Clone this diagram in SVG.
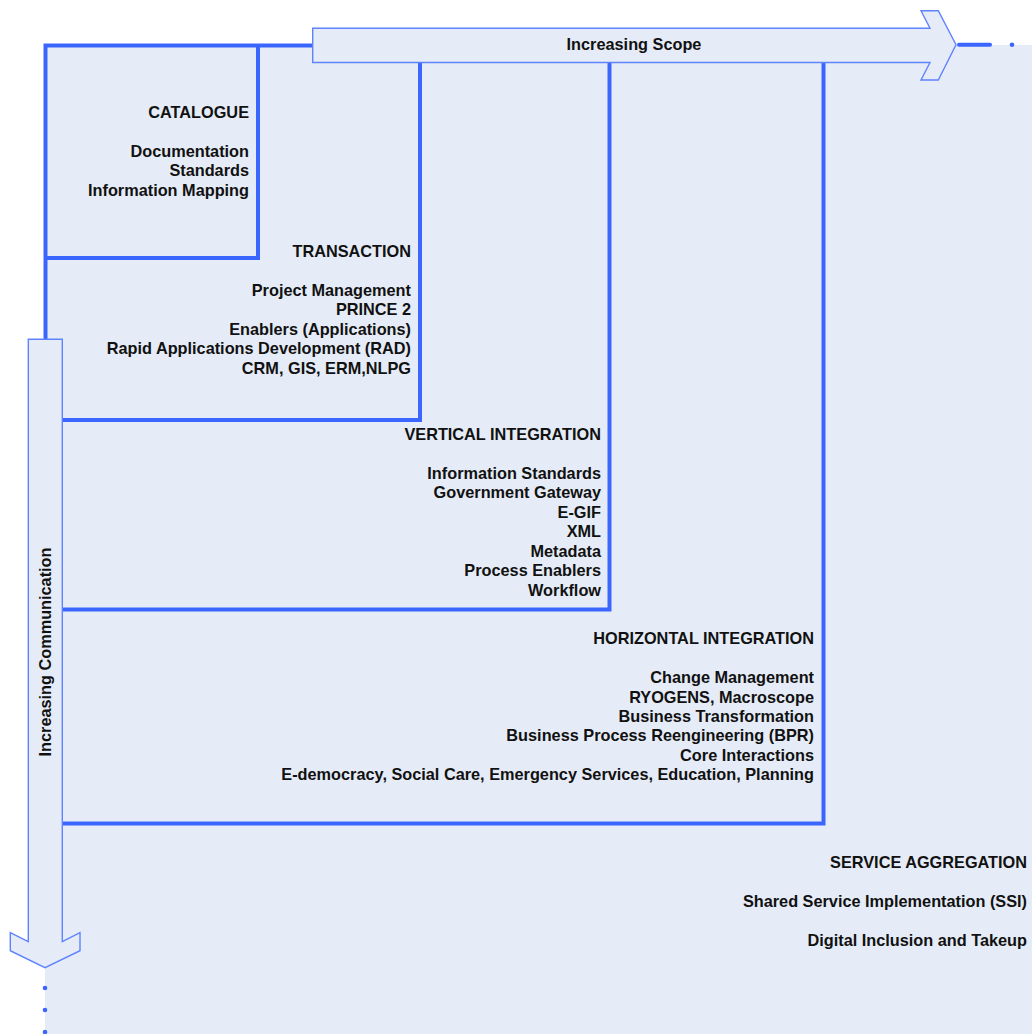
<svg xmlns="http://www.w3.org/2000/svg" width="1032" height="1034" viewBox="0 0 1032 1034">
<style>
.frame{fill:none;stroke:#3A66FF;stroke-width:4;stroke-linecap:square}
.arrow{fill:#E6ECF7;stroke:#5F83FF;stroke-width:1.4;stroke-linejoin:miter}
.t{font-family:"Liberation Sans",Arial,sans-serif;font-size:16.3px;font-weight:bold;fill:#111}
.r{text-anchor:end}
.c{text-anchor:middle}
.dot{fill:#3A66FF}
</style>
<rect x="45" y="45" width="987" height="989" fill="#E6ECF7"/>
<g id="connectors">
<line x1="959" y1="44.7" x2="990" y2="44.7" stroke="#3A66FF" stroke-width="4" stroke-linecap="round"/>
<circle class="dot" cx="1012" cy="44.7" r="2.3"/>
<circle class="dot" cx="45" cy="988" r="2.3"/>
<circle class="dot" cx="45" cy="1010" r="2.3"/>
<circle class="dot" cx="45" cy="1032" r="2.3"/>
</g>
<g id="catalogue">
<path class="frame" d="M45.5,340 V45.5 H313 M258,45.5 V258 H45.5"/>
<text class="t r" x="249" y="118">CATALOGUE</text>
<text class="t r" x="249" y="157">Documentation</text>
<text class="t r" x="249" y="176">Standards</text>
<text class="t r" x="249" y="196">Information Mapping</text>
</g>
<g id="transaction">
<path class="frame" d="M420,62 V420 H62"/>
<text class="t r" x="411" y="257">TRANSACTION</text>
<text class="t r" x="411" y="296">Project Management</text>
<text class="t r" x="411" y="315">PRINCE 2</text>
<text class="t r" x="411" y="335">Enablers (Applications)</text>
<text class="t r" x="411" y="354">Rapid Applications Development (RAD)</text>
<text class="t r" x="411" y="374">CRM, GIS, ERM,NLPG</text>
</g>
<g id="vertical-integration">
<path class="frame" d="M609.5,62 V609.5 H62"/>
<text class="t r" x="601" y="440">VERTICAL INTEGRATION</text>
<text class="t r" x="601" y="479">Information Standards</text>
<text class="t r" x="601" y="498">Government Gateway</text>
<text class="t r" x="601" y="518">E-GIF</text>
<text class="t r" x="601" y="537">XML</text>
<text class="t r" x="601" y="557">Metadata</text>
<text class="t r" x="601" y="576">Process Enablers</text>
<text class="t r" x="601" y="596">Workflow</text>
</g>
<g id="horizontal-integration">
<path class="frame" d="M823.5,62 V823.5 H62"/>
<text class="t r" x="814" y="644">HORIZONTAL INTEGRATION</text>
<text class="t r" x="814" y="683">Change Management</text>
<text class="t r" x="814" y="703">RYOGENS, Macroscope</text>
<text class="t r" x="814" y="722">Business Transformation</text>
<text class="t r" x="814" y="741">Business Process Reengineering (BPR)</text>
<text class="t r" x="814" y="761">Core Interactions</text>
<text class="t r" x="814" y="780">E-democracy, Social Care, Emergency Services, Education, Planning</text>
</g>
<g id="service-aggregation">
<text class="t r" x="1027" y="868">SERVICE AGGREGATION</text>
<text class="t r" x="1027" y="907">Shared Service Implementation (SSI)</text>
<text class="t r" x="1027" y="946">Digital Inclusion and Takeup</text>
</g>
<g id="increasing-scope">
<polygon class="arrow" points="312.7,28.3 930,28.3 921,10.7 938.3,10.7 956,44.7 938.3,80 921,80 930,62.5 312.7,62.5"/>
<text class="t c" x="634" y="50">Increasing Scope</text>
</g>
<g id="increasing-communication">
<polygon class="arrow" points="28.3,339.3 62.3,339.3 62.3,941.7 80,932.7 80,950.7 45,967.7 10.3,950.7 10.3,932.7 28.3,941.7"/>
<text class="t c" transform="translate(50.5,652) rotate(-90)">Increasing Communication</text>
</g>
</svg>
